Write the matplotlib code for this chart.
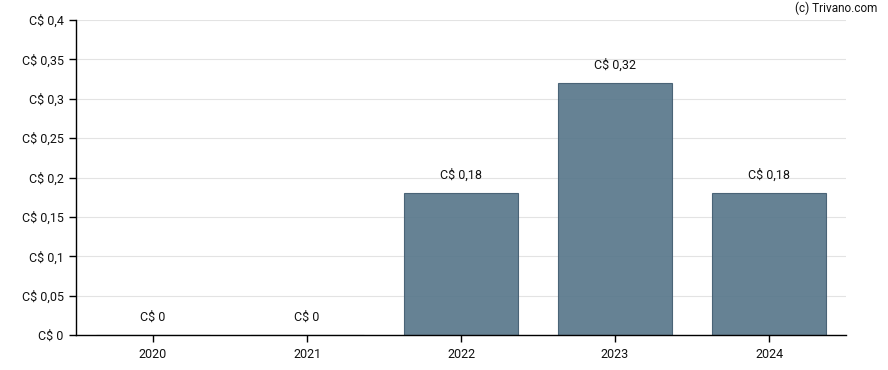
import matplotlib.pyplot as plt

years = ['2020', '2021', '2022', '2023', '2024']
values = [0, 0, 0.18, 0.32, 0.18]
labels = ['C$ 0', 'C$ 0', 'C$ 0,18', 'C$ 0,32', 'C$ 0,18']
yticks = [0, 0.05, 0.1, 0.15, 0.2, 0.25, 0.3, 0.35, 0.4]
ytick_labels = ['C$ 0', 'C$ 0,05', 'C$ 0,1', 'C$ 0,15', 'C$ 0,2',
                'C$ 0,25', 'C$ 0,3', 'C$ 0,35', 'C$ 0,4']

plt.rcParams['font.family'] = ['Roboto', 'DejaVu Sans']
plt.rcParams['font.size'] = 9

fig = plt.figure(figsize=(8.88, 3.7), dpi=100)
ax = fig.add_axes([76 / 888, 1 - 335 / 370, (846 - 76) / 888, (335 - 20) / 370])

x = range(len(years))
ax.bar(x, values, width=0.74, color='#557589', alpha=0.9,
       edgecolor='#3f5a6e', linewidth=0.8, zorder=2)
for i, (v, lab) in enumerate(zip(values, labels)):
    ax.annotate(lab, (i, v), xytext=(0, 8), textcoords='offset points',
                ha='center', va='bottom', color='#111111')

ax.set_xlim(-0.5, 4.5)
ax.set_ylim(0, 0.4)
ax.set_xticks(list(x))
ax.set_xticklabels(years)
ax.set_yticks(yticks)
ax.set_yticklabels(ytick_labels)
ax.grid(axis='y', color='#e3e3e3', linewidth=0.8, zorder=1)
ax.set_axisbelow(True)
for s in ['top', 'right']:
    ax.spines[s].set_visible(False)
for s in ['left', 'bottom']:
    ax.spines[s].set_color('black')
    ax.spines[s].set_linewidth(1)
    ax.spines[s].set_zorder(4)
ax.tick_params(axis='both', length=5, width=1, color='black', labelcolor='#111111')
ax.tick_params(axis='y', pad=4)
ax.tick_params(axis='x', pad=4)

fig.text(877 / 888, 1 - 8 / 370, '(c) Trivano.com', ha='right', va='center',
         fontsize=8.5, color='#111111')

fig.savefig('out.png', dpi=100)
